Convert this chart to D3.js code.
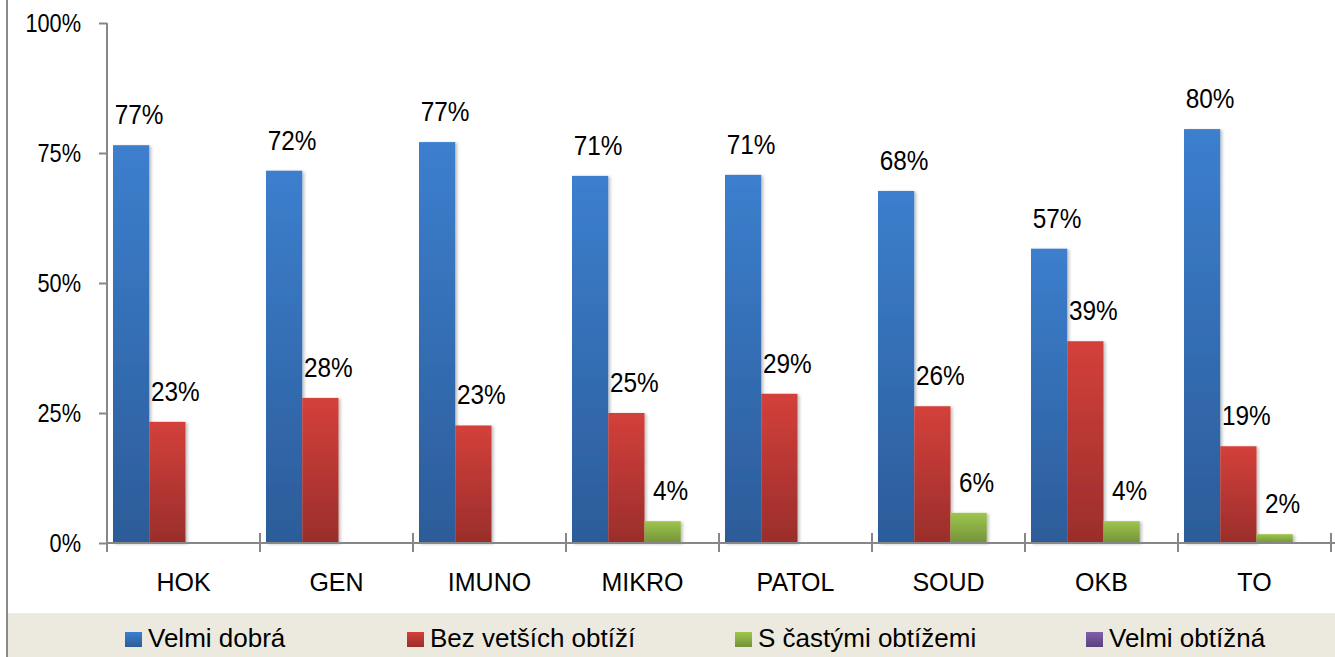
<!DOCTYPE html>
<html>
<head>
<meta charset="utf-8">
<script src="https://cdn.jsdelivr.net/npm/d3@7"></script>
<style>
  body { margin: 0; background: #fff; }
  text { font-family: "Liberation Sans", Arial, sans-serif; fill: #000; }
</style>
</head>
<body>
<div class="chart"></div>
<script>
var categories = ["HOK", "GEN", "IMUNO", "MIKRO", "PATOL", "SOUD", "OKB", "TO"];
var seriesNames = ["Velmi dobrá", "Bez vetších obtíží", "S častými obtížemi", "Velmi obtížná"];
var velmiDobra = [76.5, 71.6, 77.1, 70.6, 70.8, 67.7, 56.6, 79.6];
var bezObtizi = [23.3, 27.9, 22.6, 25.0, 28.7, 26.3, 38.8, 18.6];
var castymi = [0, 0, 0, 4.2, 0, 5.8, 4.2, 1.7];
var velmiObtizna = [0, 0, 0, 0, 0, 0, 0, 0];
var yTicks = [0, 25, 50, 75, 100];
var colors = [["#3c7fce", "#2c5c99"], ["#d4403b", "#9a2e2b"], ["#9ec64c", "#74923a"], ["#8160aa", "#5a417b"]];

var seriesValues = [velmiDobra, bezObtizi, castymi, velmiObtizna];

var width = 1335,
height = 657,
margin = {top: 23, bottom: 114, left: 107, right: 4},
squeeze = 0.87; // numbers in the original are set in a narrow face

var svg = d3.select(".chart").append("svg")
	.attr("width", width)
	.attr("height", height)

var defs = svg.append("defs")
colors.forEach(function(c, i) {
	var g = defs.append("linearGradient")
		.attr("id", "grad" + i)
		.attr("x1", 0).attr("y1", 0).attr("x2", 0).attr("y2", 1)
	g.append("stop").attr("offset", "0%").attr("stop-color", c[0])
	g.append("stop").attr("offset", "100%").attr("stop-color", c[1])
})
var shadow = defs.append("filter").attr("id", "shadow")
	.attr("x", "-20%").attr("y", "-5%").attr("width", "150%").attr("height", "115%")
shadow.append("feDropShadow")
	.attr("dx", 2).attr("dy", 1).attr("stdDeviation", 1.5)
	.attr("flood-color", "#000").attr("flood-opacity", 0.25)

// legend band and left frame
svg.append("rect")
	.attr("x", 8).attr("y", 613)
	.attr("width", width - 8).attr("height", height - 613)
	.style("fill", "#eceadf")
svg.append("line")
	.attr("x1", 7).attr("x2", 7).attr("y1", 0).attr("y2", height)
	.style("stroke", "#8a8a8a").style("stroke-width", 2)

var x = d3.scaleBand()
	.domain(categories)
	.range([margin.left, margin.left + 153 * categories.length])

var xInner = d3.scaleBand()
	.domain(d3.range(seriesNames.length))
	.range([6, 151])

var y = d3.scaleLinear()
	.domain([0, 100])
	.range([543, 23])

// bars
var groups = svg.append("g").attr("class", "bars")
seriesValues.forEach(function(vals, s) {
	groups.selectAll(".bar" + s)
		.data(vals.map(function(v, i) { return {cat: categories[i], v: v}; }).filter(function(d) { return d.v > 0; }))
		.enter()
		.append("rect")
		.attr("x", function(d) { return x(d.cat) + xInner(s); })
		.attr("y", function(d) { return y(d.v); })
		.attr("width", xInner.bandwidth())
		.attr("height", function(d) { return y(0) - y(d.v); })
		.style("fill", "url(#grad" + s + ")")
		.attr("filter", "url(#shadow)")
})

// axes
var yAxis = svg.append("g")
	.attr("transform", "translate(" + margin.left + ",0)")
	.call(d3.axisLeft(y).tickValues(yTicks).tickSize(8).tickPadding(18).tickFormat(function(d) { return d + "%"; }))
yAxis.select(".domain").attr("d", "M0," + y(100) + "V552")

var xAxis = svg.append("g")
	.attr("transform", "translate(0," + y(0) + ")")
xAxis.append("line")
	.attr("x1", margin.left).attr("x2", width)
	.attr("y1", 0).attr("y2", 0)
xAxis.selectAll(".xtick")
	.data(d3.range(categories.length + 1))
	.enter()
	.append("line")
	.attr("x1", function(d) { return margin.left + d * x.bandwidth(); })
	.attr("x2", function(d) { return margin.left + d * x.bandwidth(); })
	.attr("y1", -10).attr("y2", 9)
xAxis.selectAll(".xlabel")
	.data(categories)
	.enter()
	.append("text")
	.text(function(d) { return d; })
	.attr("x", function(d) { return x(d) + x.bandwidth() / 2; })
	.attr("y", 48)
	.attr("text-anchor", "middle")
	.style("font-size", "25px")

svg.selectAll("g line, g .domain")
	.style("stroke", "#878787").style("stroke-width", 2).style("fill", "none")
yAxis.selectAll("text")
	.attr("x", -26 / squeeze)
	.attr("transform", "scale(" + squeeze + ",1)")
	.style("font-size", "25px").style("fill", "#000")

// data labels
var labels = svg.append("g").attr("class", "labels")
seriesValues.forEach(function(vals, s) {
	labels.selectAll(".lab" + s)
		.data(vals.map(function(v, i) { return {cat: categories[i], v: v}; }).filter(function(d) { return d.v > 0; }))
		.enter()
		.append("text")
		.text(function(d) { return Math.round(d.v) + "%"; })
		.attr("transform", function(d) {
			var cx = x(d.cat) + xInner(s) + xInner.bandwidth() / 2 + 8;
			return "translate(" + cx + "," + (y(d.v) - 21) + ") scale(" + squeeze + ",1)";
		})
		.attr("text-anchor", "middle")
		.style("font-size", "28px")
})

// legend
var legendX = [125, 407, 735, 1086];
var legend = svg.append("g").attr("class", "legend")
	.selectAll("g")
	.data(seriesNames)
	.enter()
	.append("g")
	.attr("transform", function(d, i) { return "translate(" + legendX[i] + ",632)"; })
legend.append("rect")
	.attr("width", 17).attr("height", 15)
	.style("fill", function(d, i) { return "url(#grad" + i + ")"; })
legend.append("text")
	.text(function(d) { return d; })
	.attr("x", 23).attr("y", 14.5)
	.style("font-size", "26px")
</script>
</body>
</html>
